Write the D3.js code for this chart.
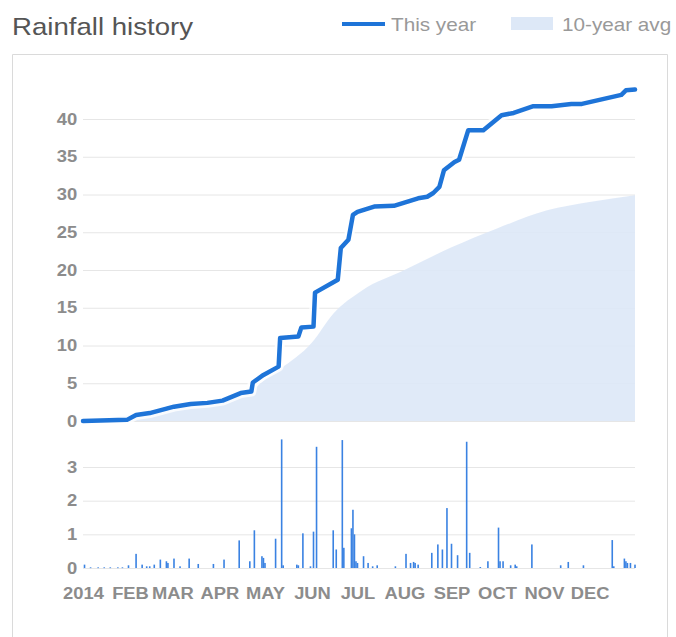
<!DOCTYPE html>
<html>
<head>
<meta charset="utf-8">
<script src="https://cdn.jsdelivr.net/npm/d3@7"></script>
<style>
  body { margin: 0; background: #fff; }
  svg { display: block; }
</style>
</head>
<body>
<div id="chart"></div>
<script>
// cumulative rainfall this year (inches)
var thisYear = [
  ["2014-01-01", 0], ["2014-01-30", 0.15], ["2014-02-05", 0.8], ["2014-02-14", 1.05],
  ["2014-03-02", 1.9], ["2014-03-13", 2.25], ["2014-03-24", 2.4], ["2014-04-03", 2.7],
  ["2014-04-15", 3.7], ["2014-04-22", 3.9], ["2014-04-23", 5.1], ["2014-04-30", 6.1],
  ["2014-05-10", 7.2], ["2014-05-11", 11.0], ["2014-05-23", 11.2], ["2014-05-25", 12.4],
  ["2014-06-02", 12.5], ["2014-06-03", 17.0], ["2014-06-18", 18.7], ["2014-06-20", 22.9],
  ["2014-06-25", 24.0], ["2014-06-28", 27.3], ["2014-07-01", 27.7], ["2014-07-12", 28.4],
  ["2014-07-25", 28.5], ["2014-08-10", 29.5], ["2014-08-16", 29.7], ["2014-08-20", 30.2],
  ["2014-08-24", 31.0], ["2014-08-27", 33.2], ["2014-09-03", 34.3], ["2014-09-06", 34.6],
  ["2014-09-12", 38.5], ["2014-09-22", 38.5], ["2014-10-04", 40.5], ["2014-10-12", 40.8],
  ["2014-10-25", 41.7], ["2014-11-06", 41.7], ["2014-11-19", 42.0], ["2014-11-26", 42.0],
  ["2014-12-22", 43.2], ["2014-12-25", 43.8], ["2014-12-31", 43.9]
];

// 10-year average cumulative rainfall
var tenYearAvg = [
  ["2014-01-01", 0], ["2014-02-01", 0.8], ["2014-03-01", 1.8], ["2014-04-01", 2.8],
  ["2014-04-20", 3.7], ["2014-05-01", 5.5], ["2014-05-11", 6.9], ["2014-06-01", 10.4],
  ["2014-06-15", 14.2], ["2014-07-04", 17.3], ["2014-08-01", 20.0], ["2014-09-01", 23.0],
  ["2014-10-01", 25.5], ["2014-11-03", 27.9], ["2014-12-01", 29.0], ["2014-12-31", 29.9]
];

// daily rainfall (inches)
var dailyRain = [
  ["2014-01-02", 0.1], ["2014-01-06", 0.02], ["2014-01-11", 0.02], ["2014-01-15", 0.02],
  ["2014-01-19", 0.02], ["2014-01-24", 0.02], ["2014-01-27", 0.02], ["2014-01-31", 0.08],
  ["2014-02-05", 0.42], ["2014-02-09", 0.1], ["2014-02-12", 0.05], ["2014-02-14", 0.05],
  ["2014-02-17", 0.1], ["2014-02-21", 0.25], ["2014-02-25", 0.2], ["2014-02-26", 0.15],
  ["2014-03-02", 0.28], ["2014-03-06", 0.05], ["2014-03-12", 0.28], ["2014-03-18", 0.12],
  ["2014-03-28", 0.12], ["2014-04-04", 0.25], ["2014-04-14", 0.82], ["2014-04-21", 0.2],
  ["2014-04-24", 1.12], ["2014-04-29", 0.35], ["2014-04-30", 0.3], ["2014-05-01", 0.15],
  ["2014-05-08", 0.87], ["2014-05-12", 3.82], ["2014-05-13", 0.08], ["2014-05-22", 0.1],
  ["2014-05-23", 0.08], ["2014-05-26", 1.03], ["2014-05-31", 0.05], ["2014-06-02", 1.08],
  ["2014-06-04", 3.6], ["2014-06-15", 1.12], ["2014-06-17", 0.55], ["2014-06-21", 3.8],
  ["2014-06-22", 0.6], ["2014-06-27", 1.18], ["2014-06-28", 1.73], ["2014-06-29", 1.0],
  ["2014-06-30", 0.2], ["2014-07-01", 0.15], ["2014-07-05", 0.35], ["2014-07-08", 0.15],
  ["2014-07-11", 0.05], ["2014-07-14", 0.08], ["2014-07-26", 0.05], ["2014-08-02", 0.42],
  ["2014-08-05", 0.15], ["2014-08-07", 0.18], ["2014-08-08", 0.15], ["2014-08-10", 0.1],
  ["2014-08-19", 0.45], ["2014-08-23", 0.7], ["2014-08-26", 0.55], ["2014-08-29", 1.78],
  ["2014-09-01", 0.72], ["2014-09-05", 0.38], ["2014-09-11", 3.75], ["2014-09-13", 0.45],
  ["2014-09-20", 0.03], ["2014-09-25", 0.2], ["2014-10-02", 1.2], ["2014-10-03", 0.2],
  ["2014-10-05", 0.2], ["2014-10-10", 0.08], ["2014-10-13", 0.1], ["2014-10-14", 0.05],
  ["2014-10-24", 0.7], ["2014-11-12", 0.08], ["2014-11-17", 0.18], ["2014-11-27", 0.08],
  ["2014-12-16", 0.83], ["2014-12-17", 0.05], ["2014-12-24", 0.28], ["2014-12-25", 0.2],
  ["2014-12-26", 0.15], ["2014-12-28", 0.15], ["2014-12-31", 0.1]
];

var totalTicks = [0, 5, 10, 15, 20, 25, 30, 35, 40];
var dailyTicks = [0, 1, 2, 3];
var monthNames = ["2014", "FEB", "MAR", "APR", "MAY", "JUN", "JUL", "AUG", "SEP", "OCT", "NOV", "DEC"];

var width = 676, height = 637;
var line_color = '#1e74d8';
var bar_color = '#3a82e2';
var area_color = '#dde8f7';
var grid_color = '#e6e6e6';
var label_color = '#8c8c8c';
var font = '"Liberation Sans", Arial, sans-serif';
var stretch = 'scale(1.15,1)';

var parse = d3.timeParse('%Y-%m-%d');

var svg = d3.select('#chart')
  .append('svg')
  .attr('width', width)
  .attr('height', height);

// Header
svg.append('text')
  .text('Rainfall history')
  .attr('transform', 'translate(12,35) ' + stretch)
  .style('font-family', font)
  .style('font-size', '24px')
  .style('fill', '#555');

svg.append('line')
  .attr('x1', 342).attr('x2', 385)
  .attr('y1', 24).attr('y2', 24)
  .attr('stroke', line_color)
  .attr('stroke-width', 4);

svg.append('text')
  .text('This year')
  .attr('transform', 'translate(391,31) ' + stretch)
  .style('font-family', font)
  .style('font-size', '18px')
  .style('fill', '#999');

svg.append('rect')
  .attr('x', 511).attr('y', 17)
  .attr('width', 42).attr('height', 13)
  .style('fill', area_color);

svg.append('text')
  .text('10-year avg')
  .attr('transform', 'translate(562,31) ' + stretch)
  .style('font-family', font)
  .style('font-size', '18px')
  .style('fill', '#999');

// panel frame (open at the bottom)
svg.append('path')
  .attr('d', 'M12.5,' + height + 'V54.5H667.5V' + height)
  .attr('fill', 'none')
  .attr('stroke', '#dadada');

// Scales
var x = d3.scaleTime()
  .domain([parse('2014-01-01'), parse('2014-12-31')])
  .range([83, 635]);

var y_total = d3.scaleLinear().domain([0, 40]).range([421, 119]);
var y_daily = d3.scaleLinear().domain([0, 3]).range([568, 467]);

function style_axis(g){
  g.select('.domain').remove();
  g.selectAll('.tick line').attr('stroke', grid_color);
  g.selectAll('.tick text')
    .style('font-family', font)
    .style('font-weight', 700)
    .style('fill', label_color);
}

// cumulative panel grid + labels
svg.append('g')
  .attr('transform', 'translate(83,0)')
  .call(d3.axisLeft(y_total).tickValues(totalTicks).tickSize(-552).tickPadding(5).tickFormat(d3.format('d')))
  .call(style_axis)
  .selectAll('.tick text')
  .attr('transform', stretch)
  .style('font-size', '16px');

// 10-year average area
var avg_data = tenYearAvg.map(d => ({date: parse(d[0]), value: d[1]}));
svg.append('path')
  .datum(avg_data)
  .attr('d', d3.area()
    .x(d => x(d.date))
    .y0(y_total(0))
    .y1(d => y_total(d.value))
    .curve(d3.curveMonotoneX))
  .style('fill', area_color)
  .style('opacity', 0.9);

// this year line, with a white halo underneath
var year_data = thisYear.map(d => ({date: parse(d[0]), value: d[1]}));
var year_line = d3.line()
  .x(d => x(d.date))
  .y(d => y_total(d.value));

svg.append('path')
  .datum(year_data)
  .attr('d', year_line)
  .attr('fill', 'none')
  .attr('stroke', '#fff')
  .attr('stroke-width', 10)
  .attr('stroke-linejoin', 'round')
  .attr('opacity', 0.8);

svg.append('path')
  .datum(year_data)
  .attr('d', year_line)
  .attr('fill', 'none')
  .attr('stroke', line_color)
  .attr('stroke-width', 4.5)
  .attr('stroke-linejoin', 'round')
  .attr('stroke-linecap', 'round');

// daily panel grid + labels
svg.append('g')
  .attr('transform', 'translate(83,0)')
  .call(d3.axisLeft(y_daily).tickValues(dailyTicks).tickSize(-552).tickPadding(5).tickFormat(d3.format('d')))
  .call(style_axis)
  .selectAll('.tick text')
  .attr('transform', stretch)
  .style('font-size', '16px');

svg.append('g')
  .selectAll('rect')
  .data(dailyRain)
  .enter()
  .append('rect')
  .attr('x', d => x(parse(d[0])) - 0.8)
  .attr('width', 1.6)
  .attr('y', d => y_daily(d[1]))
  .attr('height', d => Math.max(0.8, y_daily(0) - y_daily(d[1])))
  .style('fill', bar_color);

// month labels
svg.append('g')
  .attr('transform', 'translate(0,582)')
  .call(d3.axisBottom(x)
    .ticks(d3.timeMonth.every(1))
    .tickSize(0)
    .tickPadding(5)
    .tickFormat(d => monthNames[d.getMonth()]))
  .call(style_axis)
  .selectAll('.tick text')
  .attr('transform', 'scale(1.08,1)')
  .style('font-size', '17px');
</script>
</body>
</html>
